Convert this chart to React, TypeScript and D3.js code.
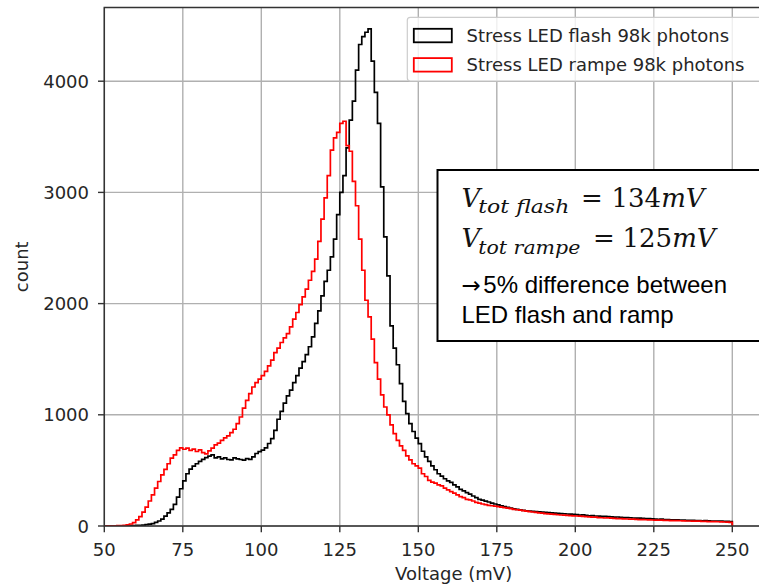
import React from "react";
import * as d3 from "d3";

// Histogram: 1 mV bins starting at 50 mV
const BIN_START = 50;
const BIN_WIDTH = 1;

const flashCounts: number[] = [
  // 50-59
  0, 0, 0, 0, 1, 1, 2, 2, 3, 4,
  // 60-69
  5, 6, 8, 12, 16, 22, 32, 45, 62, 88,
  // 70-79
  118, 150, 195, 260, 335, 405, 470, 512, 538, 560,
  // 80-89
  582, 600, 615, 628, 640, 612, 622, 604, 612, 598,
  // 90-99
  594, 612, 603, 598, 592, 606, 600, 622, 652, 668,
  // 100-109
  682, 702, 742, 785, 860, 960, 1030, 1105, 1170, 1222,
  // 110-119
  1290, 1352, 1420, 1478, 1542, 1612, 1700, 1822, 1935, 2070,
  // 120-129
  2200, 2300, 2420, 2580, 2800, 3000, 3150, 3400, 3650, 3820,
  // 130-139
  4100, 4330, 4400, 4440, 4470, 4180, 3900, 3620, 3050, 2600,
  // 140-149
  2250, 1800, 1600, 1450, 1280, 1120, 1010, 920, 850, 790,
  // 150-159
  740, 672, 622, 582, 540, 506, 470, 448, 425, 405,
  // 160-169
  392, 370, 352, 330, 316, 300, 287, 270, 256, 240,
  // 170-179
  233, 224, 216, 205, 198, 190, 182, 175, 168, 160,
  // 180-189
  155, 150, 145, 140, 137, 135, 132, 130, 128, 125,
  // 190-199
  122, 120, 118, 116, 114, 112, 110, 108, 106, 104,
  // 200-209
  102, 98, 100, 95, 92, 94, 90, 88, 86, 87,
  // 210-219
  84, 82, 80, 81, 78, 76, 75, 74, 72, 70,
  // 220-229
  71, 68, 66, 67, 64, 62, 60, 61, 58, 57,
  // 230-239
  56, 55, 56, 53, 52, 51, 50, 51, 49, 48,
  // 240-249
  47, 48, 46, 45, 44, 45, 43, 42, 41, 40,
];

const rampeCounts: number[] = [
  // 50-59
  0, 1, 1, 2, 3, 4, 6, 10, 18, 30,
  // 60-69
  55, 85, 125, 170, 225, 280, 340, 400, 460, 510,
  // 70-79
  560, 610, 640, 680, 702, 690, 700, 680, 692, 670,
  // 80-89
  685, 660, 648, 675, 700, 730, 745, 770, 792, 810,
  // 90-99
  840, 870, 920, 980, 1060, 1130, 1190, 1250, 1290, 1320,
  // 100-109
  1352, 1390, 1440, 1492, 1560, 1600, 1650, 1692, 1730, 1790,
  // 110-119
  1860, 1920, 1990, 2060, 2130, 2210, 2290, 2400, 2560, 2760,
  // 120-129
  2950, 3150, 3380, 3490, 3540, 3620, 3640, 3420, 3370, 3100,
  // 130-139
  2880, 2580, 2300, 2030, 1880, 1680, 1470, 1320, 1180, 1070,
  // 140-149
  1000, 910, 830, 770, 720, 680, 630, 595, 560, 540,
  // 150-159
  520, 470, 445, 410, 395, 385, 370, 360, 340, 325,
  // 160-169
  310, 295, 280, 265, 255, 240, 235, 225, 212, 205,
  // 170-179
  198, 192, 186, 182, 178, 174, 170, 166, 160, 156,
  // 180-189
  150, 146, 142, 138, 134, 130, 126, 122, 118, 115,
  // 190-199
  112, 109, 106, 104, 101, 99, 97, 95, 93, 91,
  // 200-209
  90, 88, 86, 84, 82, 80, 79, 76, 74, 72,
  // 210-219
  73, 70, 68, 67, 66, 64, 63, 62, 61, 60,
  // 220-229
  58, 57, 56, 55, 54, 53, 52, 53, 51, 50,
  // 230-239
  49, 48, 48, 47, 46, 45, 45, 44, 43, 43,
  // 240-249
  42, 41, 40, 40, 39, 38, 37, 36, 35, 33,
];

const xTicks: number[] = [50, 75, 100, 125, 150, 175, 200, 225, 250];
const yTicks: number[] = [0, 1000, 2000, 3000, 4000];

const seriesNames: string[] = [
  "Stress LED flash 98k photons",
  "Stress LED rampe 98k photons",
];
const seriesColors: string[] = ["#000000", "#ff0000"];

const W = 759;
const H = 585;
const L = 104.3;
const R = 803;
const T = 7.5;
const B = 526;

const FONT = "'DejaVu Sans', sans-serif";

function stepPath(counts: number[], x: d3.ScaleLinear<number, number>, y: d3.ScaleLinear<number, number>) {
  const pts: [number, number][] = [];
  pts.push([BIN_START, 0]);
  counts.forEach((c, i) => pts.push([BIN_START + i * BIN_WIDTH, c]));
  const end = BIN_START + counts.length * BIN_WIDTH;
  pts.push([end, counts[counts.length - 1]]);
  pts.push([end, 0]);
  const line = d3
    .line<[number, number]>()
    .x((d) => x(d[0]))
    .y((d) => y(d[1]))
    .curve(d3.curveStepAfter);
  return line(pts) || "";
}

export default function App() {
  const x = d3.scaleLinear().domain([50, 250]).range([L, 732.3]);
  const y = d3.scaleLinear().domain([0, 4000]).range([B, 81.2]);

  const series = [flashCounts, rampeCounts];

  return (
    <svg
      width={W}
      height={H}
      viewBox={`0 0 ${W} ${H}`}
      style={{ position: "absolute", left: 0, top: 0, background: "#fff" }}
    >
      <defs>
        <clipPath id="plot">
          <rect x={L} y={T} width={R - L} height={B - T} />
        </clipPath>
      </defs>
      <rect x={0} y={0} width={W} height={H} fill="#fff" />
      {/* grid */}
      <g stroke="#b0b0b0" strokeWidth={1.4}>
        {xTicks.map((t) => (
          <line key={"gx" + t} x1={x(t)} x2={x(t)} y1={T} y2={B} />
        ))}
        {yTicks.map((t) => (
          <line key={"gy" + t} x1={L} x2={R} y1={y(t)} y2={y(t)} />
        ))}
      </g>
      {/* histograms */}
      <g clipPath="url(#plot)" fill="none" strokeWidth={1.7} strokeLinejoin="miter">
        {series.map((s, i) => (
          <path key={i} d={stepPath(s, x, y)} stroke={seriesColors[i]} />
        ))}
      </g>
      {/* spines */}
      <rect x={L} y={T} width={R - L} height={B - T} fill="none" stroke="#333" strokeWidth={1.5} />
      {/* ticks */}
      <g stroke="#333" strokeWidth={1.4}>
        {xTicks.map((t) => (
          <line key={"tx" + t} x1={x(t)} x2={x(t)} y1={B} y2={B + 6.3} />
        ))}
        {yTicks.map((t) => (
          <line key={"ty" + t} x1={L - 6.3} x2={L} y1={y(t)} y2={y(t)} />
        ))}
      </g>
      <g fontFamily={FONT} fontSize={18} fill="#262626">
        {xTicks.map((t) => (
          <text key={"lx" + t} x={x(t)} y={556} textAnchor="middle">
            {t}
          </text>
        ))}
        {yTicks.map((t) => (
          <text key={"ly" + t} x={89} y={y(t) + 6.5} textAnchor="end">
            {t}
          </text>
        ))}
        <text x={(L + R) / 2} y={580} textAnchor="middle">
          Voltage (mV)
        </text>
        <text
          transform={`translate(${28},${(T + B) / 2}) rotate(-90)`}
          textAnchor="middle"
        >
          count
        </text>
      </g>
      {/* legend */}
      <g>
        <rect
          x={407.3}
          y={17.3}
          width={R - 7 - 407.3}
          height={63.7}
          rx={3}
          fill="#fff"
          fillOpacity={0.8}
          stroke="#cccccc"
          strokeWidth={1.2}
        />
        {seriesNames.map((n, i) => (
          <g key={n}>
            <rect
              x={413.8}
              y={28.8 + i * 29.3}
              width={38}
              height={13.5}
              fill="none"
              stroke={seriesColors[i]}
              strokeWidth={1.8}
            />
            <text
              x={466.5}
              y={41.5 + i * 29.5}
              fontFamily={FONT}
              fontSize={18}
              fill="#262626"
            >
              {n}
            </text>
          </g>
        ))}
      </g>
      {/* annotation box */}
      <g>
        <rect x={437.5} y={170} width={340} height={171} fill="#fff" stroke="#000" strokeWidth={2} />
        <g fontFamily="'DejaVu Serif', serif" fill="#111">
          <text x={461.5} y={206.7} fontSize={26} fontStyle="italic">V</text>
          <text x={478.3} y={213} fontSize={19} fontStyle="italic" textLength={91} lengthAdjust="spacingAndGlyphs">
            tot flash
          </text>
          <text x={581} y={206.7} fontSize={26}>=</text>
          <text x={611.5} y={206.7} fontSize={26}>
            134<tspan fontStyle="italic">mV</tspan>
          </text>

          <text x={461.5} y={247.3} fontSize={26} fontStyle="italic">V</text>
          <text x={478.3} y={253.5} fontSize={19} fontStyle="italic" textLength={102} lengthAdjust="spacingAndGlyphs">
            tot rampe
          </text>
          <text x={593} y={247.3} fontSize={26}>=</text>
          <text x={622.5} y={247.3} fontSize={26}>
            125<tspan fontStyle="italic">mV</tspan>
          </text>
        </g>
        <g fontFamily="'Liberation Sans', Arial, sans-serif" fontSize={24} fill="#000">
          <text x={461.5} y={293.3}>
            <tspan fontFamily="'DejaVu Sans', sans-serif" fontSize={23}>→</tspan>
            <tspan x={483.3}>5% difference between</tspan>
          </text>
          <text x={461.5} y={322.7}>LED flash and ramp</text>
        </g>
      </g>
    </svg>
  );
}
